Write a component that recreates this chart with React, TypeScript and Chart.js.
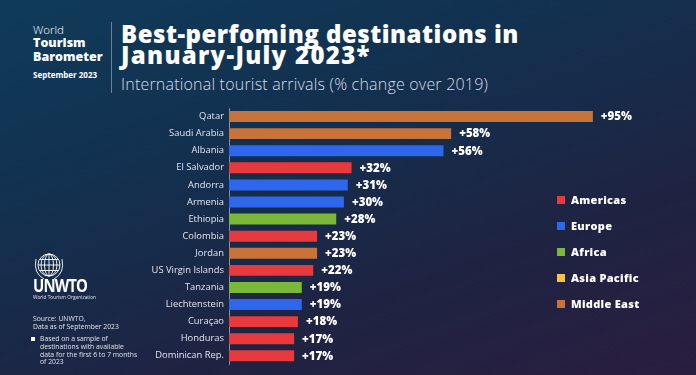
import React, { useEffect, useRef } from "react";
import { Chart, registerables } from "chart.js";

Chart.register(...registerables);

const categories = [
  "Qatar", "Saudi Arabia", "Albania", "El Salvador", "Andorra", "Armenia", "Ethiopia",
  "Colombia", "Jordan", "US Virgin Islands", "Tanzania", "Liechtenstein", "Curaçao",
  "Honduras", "Dominican Rep.",
];
const values = [95, 58, 56, 32, 31, 30, 28, 23, 23, 22, 19, 19, 18, 17, 17];
const regions = [
  "Middle East", "Middle East", "Europe", "Americas", "Europe", "Europe", "Africa",
  "Americas", "Middle East", "Americas", "Africa", "Europe", "Americas", "Americas", "Americas",
];
const legendLabels = ["Americas", "Europe", "Africa", "Asia Pacific", "Middle East"];
const legendColors = ["#e83a3c", "#2f67ec", "#7bb83a", "#f4c543", "#c8733a"];

const colorOf = (r: string) => legendColors[legendLabels.indexOf(r)];

const FONT = "'Open Sans', 'DejaVu Sans', sans-serif";

const valueLabels = {
  id: "valueLabels",
  afterDatasetsDraw(chart: any) {
    const ctx = chart.ctx;
    const meta = chart.getDatasetMeta(0);
    ctx.save();
    ctx.fillStyle = "#ffffff";
    ctx.font = `800 11.5px ${FONT}`;
    ctx.textAlign = "left";
    ctx.textBaseline = "middle";
    meta.data.forEach((bar: any, i: number) => {
      ctx.fillText(`+${values[i]}%`, bar.x + 8, bar.y + 0.5);
    });
    ctx.restore();
  },
};

function ChartCanvas() {
  const ref = useRef<HTMLCanvasElement | null>(null);
  useEffect(() => {
    if (!ref.current) return;
    const chart = new Chart(ref.current, {
      type: "bar",
      data: {
        labels: categories,
        datasets: [
          {
            data: values,
            backgroundColor: regions.map(colorOf),
            barPercentage: 0.64,
            categoryPercentage: 1,
            borderWidth: 0,
          },
        ],
      },
      options: {
        indexAxis: "y",
        animation: false,
        responsive: false,
        maintainAspectRatio: false,
        layout: { padding: { left: 0, right: 84, top: 108, bottom: 10 } },
        plugins: { legend: { display: false }, tooltip: { enabled: false } },
        scales: {
          x: { display: false, min: 0, max: 100 },
          y: {
            afterFit: (scale: any) => {
              scale.width = 229;
            },
            grid: { display: true, drawOnChartArea: false, drawTicks: false },
            border: { display: true, color: "#8a8fa3", width: 1 },
            ticks: {
              color: "#e2e5ef",
              padding: 5,
              font: { family: FONT, size: 9.4 },
            },
          },
        },
      },
      plugins: [valueLabels],
    });
    return () => chart.destroy();
  }, []);
  return (
    <canvas
      ref={ref}
      width={696}
      height={375}
      style={{ position: "absolute", left: 0, top: 0, width: 696, height: 375 }}
    />
  );
}

function Globe() {
  return (
    <svg width="40" height="40" viewBox="0 0 40 40" style={{ position: "absolute", left: 29, top: 247 }}>
      <g fill="none" stroke="#ffffff" strokeWidth="0.9">
        <circle cx="20" cy="18" r="11" />
        <ellipse cx="20" cy="18" rx="4.5" ry="11" />
        <ellipse cx="20" cy="18" rx="8" ry="11" />
        <line x1="20" y1="7" x2="20" y2="29" />
        <line x1="9" y1="18" x2="31" y2="18" />
        <line x1="10.5" y1="12.5" x2="29.5" y2="12.5" />
        <line x1="10.5" y1="23.5" x2="29.5" y2="23.5" />
        <path d="M7 12 Q4 26 15 32" />
        <path d="M33 12 Q36 26 25 32" />
      </g>
    </svg>
  );
}

export default function App() {
  const txt = (style: React.CSSProperties, children: React.ReactNode) => (
    <div style={{ position: "absolute", whiteSpace: "nowrap", fontFamily: FONT, color: "#ffffff", ...style }}>
      {children}
    </div>
  );
  return (
    <div
      style={{
        position: "fixed",
        left: 0,
        top: 0,
        width: 696,
        height: 375,
        overflow: "hidden",
        background: "linear-gradient(160deg, #0f3b5a 0%, #13304f 35%, #1f2342 70%, #2a1e40 100%)",
      }}
    >
      {txt({ left: 33, top: 23, fontSize: 11.5, fontWeight: 300, lineHeight: "13px" }, "World")}
      {txt({ left: 33, top: 36, fontSize: 12.5, fontWeight: 800, lineHeight: "14px" }, "Tourism")}
      {txt({ left: 33, top: 50, fontSize: 12.5, fontWeight: 800, lineHeight: "14px" }, "Barometer")}
      {txt({ left: 33, top: 70, fontSize: 8, fontWeight: 700, lineHeight: "10px" }, "September 2023")}
      <div style={{ position: "absolute", left: 111, top: 22, width: 1, height: 71, background: "#6b7f95" }} />
      {txt({ left: 121, top: 22, fontSize: 24, fontWeight: 800, lineHeight: "24px", letterSpacing: "0.5px" }, "Best-perfoming destinations in")}
      {txt({ left: 121, top: 43, fontSize: 24, fontWeight: 800, lineHeight: "24px", letterSpacing: "1.3px" }, "January-July 2023*")}
      {txt({ left: 121, top: 73, fontSize: 16, fontWeight: 300, color: "#d8dde6", letterSpacing: "0.2px" }, "International tourist arrivals (% change over 2019)")}

      <ChartCanvas />

      {legendLabels.map((l, i) => (
        <React.Fragment key={l}>
          <div style={{ position: "absolute", left: 557, top: 196 + i * 26, width: 8, height: 8, background: legendColors[i] }} />
          {txt({ left: 571, top: 192 + i * 26, fontSize: 11, fontWeight: 800, lineHeight: "16px", letterSpacing: "0.3px" }, l)}
        </React.Fragment>
      ))}

      <Globe />
      {txt({ left: 33, top: 277, fontSize: 17, fontWeight: 700, letterSpacing: "-1px", lineHeight: "18px", transform: "scaleX(0.88)", transformOrigin: "left center" }, "UNWTO")}
      {txt({ left: 33, top: 294, fontSize: 4.8, color: "#dfe3ec", lineHeight: "6px" }, "World Tourism Organization")}
      {txt({ left: 33, top: 315, fontSize: 6.8, color: "#dfe3ec", lineHeight: "8px" }, (<>Source: UNWTO,<br />Data as of September 2023</>))}
      <div style={{ position: "absolute", left: 31, top: 337, width: 3.5, height: 3.5, background: "#ffffff" }} />
      {txt({ left: 40, top: 335, fontSize: 6.8, color: "#dfe3ec", lineHeight: "7.8px" }, (<>Based on a sample of<br />destinations with available<br />data for the first 6 to 7 months<br />of 2023</>))}
    </div>
  );
}
